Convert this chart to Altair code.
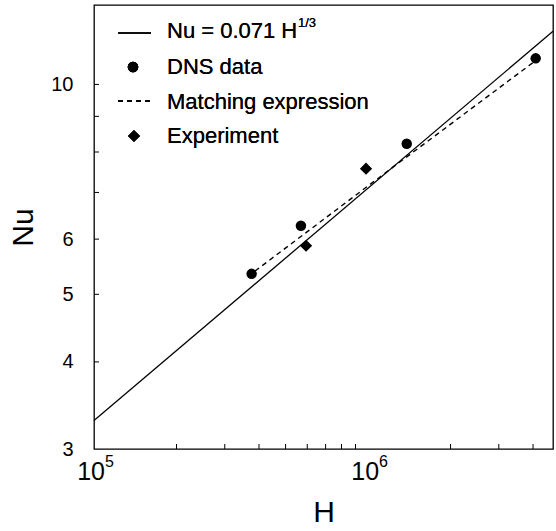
import altair as alt
import pandas as pd

# DNS results (H, Nu)
dns_H = [3.76e5, 5.69e5, 1.384e6, 4.09e6]
dns_Nu = [5.35, 6.27, 8.22, 10.9]

# experimental points
exp_H = [5.94e5, 9.83e5]
exp_Nu = [5.87, 7.57]

# matching expression, sampled along its length
match_H = [3.87e5, 1.137e6, 4.05e6]
match_Nu = [5.40, 7.43, 10.79]

# axis ranges
H_MIN, H_MAX = 1e5, 4.73e6
NU_MIN, NU_MAX = 3, 13

# power law Nu = 0.071 H^(1/3) over the plotted range
fit_coef = 0.071
fit_H = [H_MIN, H_MAX]
fit_Nu = [fit_coef * h ** (1.0 / 3.0) for h in fit_H]

# tick marks and labels
x_minor_ticks = [2e5, 3e5, 4e5, 5e5, 6e5, 7e5, 8e5, 9e5, 2e6, 3e6, 4e6]
x_label_H = [1e5, 1e6]
x_label_exp = ["5", "6"]
y_ticks = [4, 5, 6, 7, 8, 9, 10]
y_labels = [3, 4, 5, 6, 10]

W, H = 459, 444
FONT = "Liberation Sans"

dns = pd.DataFrame({"H": dns_H, "Nu": dns_Nu})
exp = pd.DataFrame({"H": exp_H, "Nu": exp_Nu})
match = pd.DataFrame({"H": match_H, "Nu": match_Nu})
fit = pd.DataFrame({"H": fit_H, "Nu": fit_Nu})
xticks = pd.DataFrame({"H": x_minor_ticks})
yticks = pd.DataFrame({"Nu": y_ticks})
xlabels = pd.DataFrame({"H": x_label_H, "base": ["10"] * len(x_label_H), "exp": x_label_exp})

x_scale = alt.Scale(type="log", domain=[H_MIN, H_MAX], nice=False)
y_scale = alt.Scale(type="log", domain=[NU_MIN, NU_MAX], nice=False)

x_axis = alt.Axis(
    title="H", labels=False, ticks=False, domain=False, grid=False,
    titleFontSize=30, titleFont=FONT, titleFontWeight="normal",
    titleColor="black", titlePadding=48,
)
y_axis = alt.Axis(
    title="Nu", values=y_labels, ticks=False, domain=False, grid=False,
    labelFontSize=20, labelFont=FONT, labelColor="black", labelPadding=21,
    titleFontSize=30, titleFont=FONT, titleFontWeight="normal",
    titleColor="black", titlePadding=12,
)


def xe():
    return alt.X("H:Q", scale=x_scale, axis=x_axis)


def ye():
    return alt.Y("Nu:Q", scale=y_scale, axis=y_axis)


fit_line = alt.Chart(fit).mark_line(color="black", strokeWidth=1.3).encode(x=xe(), y=ye())
match_line = alt.Chart(match).mark_line(
    color="black", strokeWidth=1.4, strokeDash=[5, 4]
).encode(x=xe(), y=ye())
dns_pts = alt.Chart(dns).mark_point(
    shape="circle", filled=True, color="black", opacity=1, size=110
).encode(x=xe(), y=ye())
exp_pts = alt.Chart(exp).mark_point(
    shape="diamond", filled=True, color="black", opacity=1, size=150
).encode(x=xe(), y=ye())

# inward tick marks
x_tick_marks = alt.Chart(xticks).mark_rule(color="black", strokeWidth=1).encode(
    x=xe(), y=alt.value(H), y2=alt.value(H - 5)
)
y_tick_marks = alt.Chart(yticks).mark_rule(color="black", strokeWidth=1).encode(
    y=ye(), x=alt.value(0), x2=alt.value(5)
)

# power-of-ten labels on the H axis
x_base = alt.Chart(xlabels).mark_text(
    font=FONT, fontSize=25, align="right", baseline="middle", dx=11, color="black"
).encode(x=xe(), y=alt.value(H + 23), text="base:N")
x_exp = alt.Chart(xlabels).mark_text(
    font=FONT, fontSize=16, align="left", baseline="middle", dx=11, color="black"
).encode(x=xe(), y=alt.value(H + 13), text="exp:N")

# key in the upper left corner
LEG_FS = 22
leg_x0, leg_x1, leg_sym, leg_txt = 24, 57, 40, 73
rows = [26, 62, 97, 131]

leg_fit = alt.Chart(fit).mark_rule(color="black", strokeWidth=1.3).encode(
    x=alt.value(leg_x0), x2=alt.value(leg_x1), y=alt.value(rows[0] + 2)
)
leg_dns = alt.Chart(dns).mark_point(
    shape="circle", filled=True, color="black", opacity=1, size=110
).encode(x=alt.value(leg_sym - 1), y=alt.value(rows[1]))
leg_match = alt.Chart(match).mark_rule(
    color="black", strokeWidth=1.4, strokeDash=[5, 4]
).encode(x=alt.value(leg_x0), x2=alt.value(leg_x1), y=alt.value(rows[2] - 1))
leg_exp = alt.Chart(exp).mark_point(
    shape="diamond", filled=True, color="black", opacity=1, size=150
).encode(x=alt.value(leg_sym), y=alt.value(rows[3]))


def leg_text(txt, y, size=LEG_FS, x=leg_txt):
    return alt.Chart(fit).mark_text(
        text=txt, font=FONT, fontSize=size, align="left", baseline="middle", color="black"
    ).encode(x=alt.value(x), y=alt.value(y))


leg_texts = [
    leg_text("Nu = 0.071 H", rows[0]),
    leg_text("1/3", rows[0] - 8, size=13, x=leg_txt + 131),
    leg_text("DNS data", rows[1]),
    leg_text("Matching expression", rows[2]),
    leg_text("Experiment", rows[3]),
]

chart = alt.layer(
    fit_line, match_line, dns_pts, exp_pts,
    x_tick_marks, y_tick_marks, x_base, x_exp,
    leg_fit, leg_dns, leg_match, leg_exp, *leg_texts,
).properties(
    width=W, height=H,
    autosize="none",
    padding={"left": 94, "top": 5, "right": 3, "bottom": 82},
    background="white",
).configure_view(
    stroke="black", strokeWidth=1.3
)

chart.save("out.html", embed_options={"renderer": "svg", "actions": False})
